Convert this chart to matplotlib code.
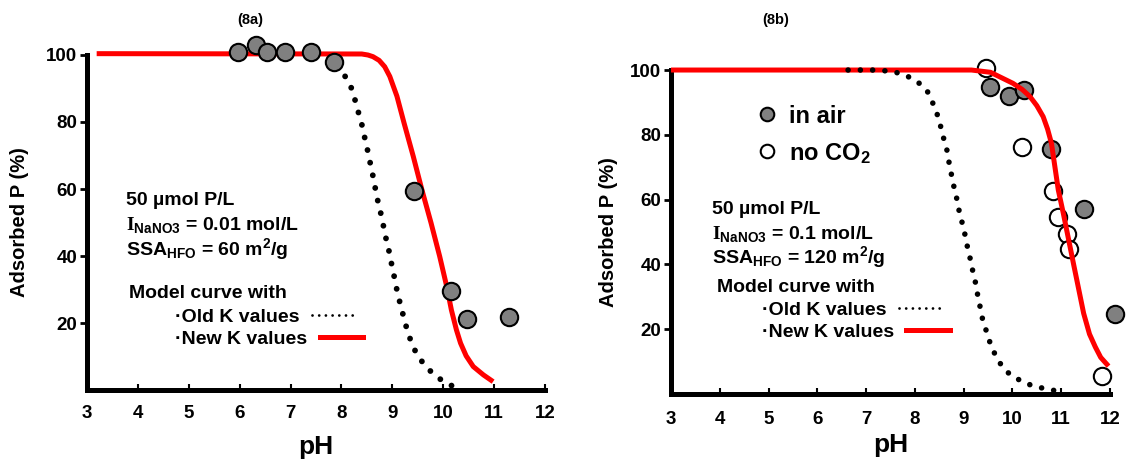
import matplotlib
matplotlib.use('Agg')
import matplotlib.pyplot as plt
from matplotlib.lines import Line2D

plt.rcParams['font.family'] = ['Liberation Sans', 'DejaVu Sans']
plt.rcParams['font.weight'] = 'bold'
plt.rcParams['mathtext.fontset'] = 'custom'
plt.rcParams['mathtext.rm'] = 'Liberation Sans'
plt.rcParams['mathtext.it'] = 'Liberation Sans:italic'
plt.rcParams['mathtext.bf'] = 'Liberation Serif:bold'

# ---- (8a) ----
exp_ph_a = [5.97, 6.32, 6.54, 6.89, 7.41, 7.85, 9.42, 10.16, 10.46, 11.30]
exp_ads_a = [101, 103, 101, 101, 101, 98, 59.5, 29.6, 21.2, 21.9]

old_ph_a = [7.95, 8.08, 8.20, 8.27, 8.34, 8.41, 8.46, 8.52, 8.57, 8.62, 8.67, 8.72, 8.78, 8.83,
            8.88, 8.94, 8.99, 9.04, 9.09, 9.15, 9.21, 9.28, 9.36, 9.46, 9.60, 9.77, 9.97, 10.19]
old_ads_a = [97, 93.4, 90.0, 86.4, 82.5, 78.7, 75.1, 71.1, 67.4, 63.8, 59.8, 56.0, 52.3, 48.6,
             44.9, 41.1, 37.2, 33.6, 29.8, 26.0, 22.5, 18.5, 14.8, 11.3, 8.1, 5.3, 2.9, 1.1]

new_ph_a = [3.19, 8.40, 8.52, 8.62, 8.74, 8.85, 8.95, 9.09, 9.23, 9.41, 9.58, 9.76, 9.93, 10.07,
            10.16, 10.26, 10.34, 10.45, 10.59, 10.79, 10.98]
new_ads_a = [100.4, 100.3, 100.0, 99.5, 98.4, 96.5, 93.6, 87.7, 79.7, 69.8, 59.8, 49.9, 39.9,
             30.8, 23.9, 17.9, 14.0, 10.2, 7.0, 4.5, 2.5]

# ---- (8b) ----
air_ph = [9.54, 9.93, 10.23, 10.80, 11.47, 12.1]
air_ads = [94.7, 92.0, 93.8, 75.6, 57.1, 24.6]

noco2_ph = [9.45, 10.19, 10.84, 10.93, 11.11, 11.15, 11.84]
noco2_ads = [100.5, 76.1, 62.7, 54.5, 49.4, 44.9, 5.6]

old_ph_b = [6.63, 6.87, 7.13, 7.37, 7.63, 7.87, 8.09, 8.26, 8.37, 8.46, 8.53, 8.59, 8.66, 8.70,
            8.75, 8.80, 8.86, 8.91, 8.97, 9.03, 9.08, 9.14, 9.19, 9.25, 9.29, 9.34, 9.39, 9.47,
            9.55, 9.65, 9.78, 9.95, 10.17, 10.40, 10.65, 10.89]
old_ads_b = [100, 100, 100, 99.8, 99.2, 97.9, 95.9, 93.3, 89.7, 86.2, 82.5, 78.9, 75.1, 71.5,
             67.7, 64.0, 60.2, 56.3, 52.8, 49.0, 45.2, 41.4, 37.7, 33.9, 30.3, 26.7, 22.9, 19.2,
             15.4, 12.0, 8.7, 6.0, 4.1, 2.6, 1.7, 1.0]

new_ph_b = [3.0, 9.16, 9.55, 10.01, 10.20, 10.36, 10.50, 10.63, 10.72, 10.80, 10.87, 10.94,
            11.04, 11.15, 11.26, 11.32, 11.46, 11.58, 11.70, 11.81, 11.97]
new_ads_b = [100, 100, 99.3, 95.9, 94.0, 91.8, 89.0, 85.6, 81.8, 77.4, 70.2, 63.0, 56.0, 47.8,
             39.6, 35.2, 24.9, 18.5, 14.5, 11.3, 8.6]

xticks = [3, 4, 5, 6, 7, 8, 9, 10, 11, 12]
yticks = [20, 40, 60, 80, 100]

RED = '#ff0000'
GREY = '#808080'

fig = plt.figure(figsize=(11.27, 4.61), dpi=100)
ax_a = fig.add_axes([0.0772, 0.1540, 0.4064, 0.7267])
ax_b = fig.add_axes([0.5954, 0.1453, 0.3895, 0.7028])


def style_axes(ax, xpad, ylabpad, xlabpad):
    ax.set_xlim(3, 12)
    ax.set_ylim(0, 100)
    ax.set_xticks(xticks)
    ax.set_yticks(yticks)
    for s in ['top', 'right']:
        ax.spines[s].set_visible(False)
    for s in ['left', 'bottom']:
        ax.spines[s].set_linewidth(3.6)
        ax.spines[s].set_capstyle('projecting')
    ax.tick_params(axis='x', direction='in', length=4.5, width=1.5, pad=xpad, labelsize=13.5)
    ax.tick_params(axis='y', direction='out', length=5, width=2, pad=2, labelsize=13.5)
    for lab in ax.get_xticklabels() + ax.get_yticklabels():
        lab.set_fontweight('bold')
    ax.set_ylabel('Adsorbed P (%)', fontsize=14.5, fontweight='bold', labelpad=ylabpad)
    ax.set_xlabel('pH', fontsize=19, fontweight='bold', labelpad=xlabpad)


def info_block(ax, x, ys, ionic, ssa):
    ax.text(x, ys[0], '50 µmol P/L', fontsize=14, fontweight='bold', va='baseline')
    ax.text(x, ys[1], r'$\mathbf{I}_{\mathrm{NaNO3}}$ = ' + ionic, fontsize=14,
            fontweight='bold', va='baseline')
    ax.text(x, ys[2], r'SSA$_{\mathrm{HFO}}$ = ' + ssa + r' m$^{\mathrm{2}}$/g', fontsize=14,
            fontweight='bold', va='baseline')


def model_legend(ax, x, y, anchor):
    ax.text(x, y, 'Model curve with', fontsize=14, fontweight='bold', va='baseline')
    h_old = Line2D([], [], color='black', lw=2.0, linestyle=(0, (0.01, 2.4)),
                   dash_capstyle='round')
    h_new = Line2D([], [], color=RED, lw=3.6)
    leg = ax.legend([h_old, h_new], ['·Old K values', '·New K values'], loc='center left',
                    bbox_to_anchor=anchor, frameon=False, markerfirst=False,
                    prop={'size': 14, 'weight': 'bold'}, handlelength=2.25,
                    handletextpad=0.65, labelspacing=0.22, borderpad=0, borderaxespad=0)
    # keep the labels flush left, like the original layout
    for col in leg._legend_handle_box.get_children():
        col.align = 'left'
    return leg


# panel a
ax = ax_a
ax.plot(new_ph_a, new_ads_a, color=RED, lw=3.6, solid_capstyle='butt', zorder=2,
        clip_on=False)
ax.plot(old_ph_a, old_ads_a, color='black', lw=4.2, linestyle=(0, (0.01, 2.2)),
        dash_capstyle='round', zorder=3, clip_on=False)
ax.plot(exp_ph_a, exp_ads_a, linestyle='none', marker='o', ms=12.5, mfc=GREY, mec='black',
        mew=1.5, zorder=4, clip_on=False)
style_axes(ax, xpad=11, ylabpad=12, xlabpad=9)
info_block(ax, 3.77, [55.2, 47.8, 40.3], '0.01 mol/L', '60')
model_legend(ax, 3.83, 27.4, (0.192, 0.184))
ax.text(0.356, 1.104, '(8a)', transform=ax.transAxes, fontsize=10.5, fontweight='bold',
        ha='center', va='center')

# panel b
ax = ax_b
ax.plot(air_ph, air_ads, linestyle='none', marker='o', ms=12.5, mfc=GREY, mec='black',
        mew=1.5, zorder=2, clip_on=False, label='in air')
ax.plot(noco2_ph, noco2_ads, linestyle='none', marker='o', ms=12.5, mfc='white', mec='black',
        mew=1.5, zorder=2, clip_on=False, label='no CO$_2$')
ax.plot(new_ph_b, new_ads_b, color=RED, lw=3.6, solid_capstyle='butt', zorder=3,
        clip_on=False)
ax.plot(old_ph_b, old_ads_b, color='black', lw=4.0, linestyle=(0, (0.01, 2.2)),
        dash_capstyle='round', zorder=4, clip_on=False)
style_axes(ax, xpad=12, ylabpad=9, xlabpad=4)
info_block(ax, 3.85, [55.6, 48.0, 40.3], '0.1 mol/L', '120')
leg_model = model_legend(ax, 3.95, 31.6, (0.2066, 0.225))
ax.add_artist(leg_model)
ax.legend(loc='center left', bbox_to_anchor=(0.197, 0.799), frameon=False,
          prop={'size': 17, 'weight': 'bold'}, markerscale=0.78, handlelength=0.8,
          handletextpad=0.53, labelspacing=0.55, borderpad=0, borderaxespad=0)
ax.text(0.239, 1.154, '(8b)', transform=ax.transAxes, fontsize=10.5, fontweight='bold',
        ha='center', va='center')

fig.savefig('out.png', dpi=100)
